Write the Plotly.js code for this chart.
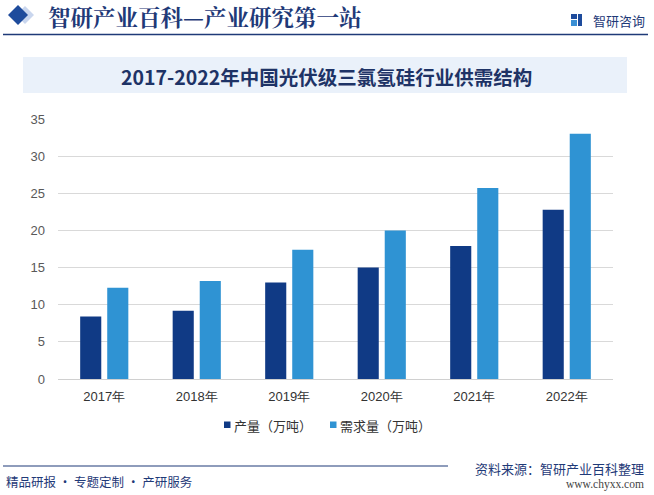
<!DOCTYPE html>
<html><head><meta charset="utf-8">
<script src="https://cdn.plot.ly/plotly-3.0.1.min.js"></script>
<style>html,body{margin:0;padding:0;background:#fff;}#chart{width:654px;height:495px;}</style>
</head><body><div id="chart"></div>
<script>
const categories = ['2017年','2018年','2019年','2020年','2021年','2022年'];
const production = [8.4, 9.2, 13.0, 15.0, 17.9, 22.8];
const demand = [12.3, 13.2, 17.4, 20.0, 25.7, 33.0];
const seriesNames = ['产量（万吨）','需求量（万吨）'];
const seriesColors = ['#103a85','#2f93d3'];
const yTicks = [0,5,10,15,20,25,30,35];

const L=58, R=613, T=119, B=379;
const px = x => (x-L)/(R-L);
const py = y => (B-y)/(B-T);
const cjk = '"Microsoft YaHei","Noto Sans CJK SC",sans-serif';

const traces = [
  {type:'bar', name:seriesNames[0], x:categories, y:production, marker:{color:seriesColors[0]}},
  {type:'bar', name:seriesNames[1], x:categories, y:demand, marker:{color:seriesColors[1]}}
];

const shapes = [
  // header diamonds
  {type:'path', xref:'paper', yref:'paper', path:`M ${px(16)} ${py(15)} L ${px(25)} ${py(6)} L ${px(34)} ${py(15)} L ${px(25)} ${py(24)} Z`, fillcolor:'#c9d6ee', line:{width:0}},
  {type:'path', xref:'paper', yref:'paper', path:`M ${px(8)} ${py(15)} L ${px(18)} ${py(5)} L ${px(28)} ${py(15)} L ${px(18)} ${py(25)} Z`, fillcolor:'#1e4b9c', line:{width:0}},
  // header line
  {type:'line', xref:'paper', yref:'paper', x0:px(3), x1:px(648), y0:py(34.5), y1:py(34.5), line:{color:'#1f3a78', width:1.4}},
  // title band
  {type:'rect', xref:'paper', yref:'paper', x0:px(23), x1:px(627), y0:py(57), y1:py(93), fillcolor:'#eaf1fa', line:{width:0}, layer:'below'},
  // footer line
  {type:'line', xref:'paper', yref:'paper', x0:px(3), x1:px(448), y0:py(466), y1:py(466), line:{color:'#1f3a78', width:1.2}},
  // logo icon
  {type:'rect', xref:'paper', yref:'paper', x0:px(571), x1:px(577), y0:py(14), y1:py(19), fillcolor:'#1e4b9c', line:{width:0}},
  {type:'rect', xref:'paper', yref:'paper', x0:px(578), x1:px(582), y0:py(14), y1:py(26), fillcolor:'#1e4b9c', line:{width:0}},
  {type:'rect', xref:'paper', yref:'paper', x0:px(571), x1:px(577), y0:py(20), y1:py(26), fillcolor:'#3a8fd4', line:{width:0}},
  // legend swatches
  {type:'rect', xref:'paper', yref:'paper', x0:px(224), x1:px(230.5), y0:py(421.5), y1:py(428), fillcolor:seriesColors[0], line:{width:0}},
  {type:'rect', xref:'paper', yref:'paper', x0:px(330), x1:px(336.5), y0:py(421.5), y1:py(428), fillcolor:seriesColors[1], line:{width:0}}
];

const annotations = [
  {text:'<b>智研产业百科—产业研究第一站</b>', x:px(46), y:py(16), xanchor:'left', yanchor:'middle', font:{family:'"Noto Serif CJK SC","Noto Sans CJK SC",serif', size:22.5, color:'#1f3a78'}},
  {text:'智研咨询', x:px(591), y:py(20), xanchor:'left', yanchor:'middle', font:{family:cjk, size:13, color:'#1f3a78'}},
  {text:'<b>2017-2022年中国光伏级三氯氢硅行业供需结构</b>', x:px(326), y:py(77), xanchor:'center', yanchor:'middle', font:{family:cjk, size:19.5, color:'#1e3366'}},
  {text:seriesNames[0], x:px(232), y:py(425), xanchor:'left', yanchor:'middle', font:{family:cjk, size:13, color:'#333'}},
  {text:seriesNames[1], x:px(338.5), y:py(425), xanchor:'left', yanchor:'middle', font:{family:cjk, size:13, color:'#333'}},
  {text:'精品研报 · 专题定制 · 产研服务', x:px(4), y:py(481), xanchor:'left', yanchor:'middle', font:{family:cjk, size:12.5, color:'#1f3a78'}},
  {text:'资料来源：智研产业百科整理', x:px(646), y:py(468), xanchor:'right', yanchor:'middle', font:{family:cjk, size:13, color:'#1f3a78'}},
  {text:'www.chyxx.com', x:px(646), y:py(484), xanchor:'right', yanchor:'middle', font:{family:'"Liberation Serif",serif', size:11.5, color:'#444'}}
];
annotations.forEach(a=>{a.xref='paper';a.yref='paper';a.showarrow=false;});

const layout = {
  width:654, height:495,
  margin:{l:L, r:654-R, t:T, b:495-B, pad:0},
  paper_bgcolor:'#fff', plot_bgcolor:'#fff',
  barmode:'group', bargap:0.415, bargroupgap:0.22,
  showlegend:false,
  xaxis:{type:'category', tickfont:{family:'"Liberation Sans",Arial,sans-serif', size:13, color:'#333'}, showgrid:false, showline:false, ticks:'', zeroline:false, ticklabelstandoff:8},
  yaxis:{range:[0,35], tickvals:yTicks, ticktext:yTicks.map(String), tickfont:{family:'"Liberation Sans",Arial,sans-serif', size:13, color:'#595959'}, showgrid:true, gridcolor:'#d9d9d9', gridwidth:1, zeroline:true, zerolinecolor:'#d0d0d0', showline:false, ticks:'', ticklabelstandoff:12},
  shapes:shapes, annotations:annotations,
  font:{family:cjk}
};
Plotly.newPlot('chart', traces, layout, {displayModeBar:false, staticPlot:true});
</script></body></html>
